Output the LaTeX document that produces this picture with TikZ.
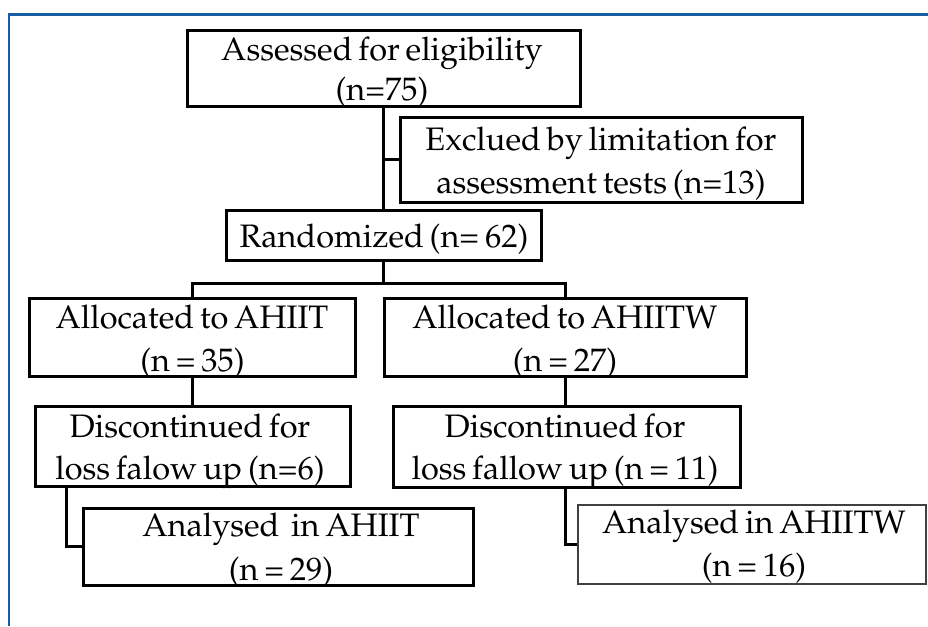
\documentclass[tikz,border=0pt]{standalone}
\usepackage[T1]{fontenc}
\usepackage{mathpazo}
\definecolor{frameblue}{RGB}{22,92,160}
\newcommand{\tightspaces}{\spaceskip 0.18em plus 0.05em\relax}
\begin{document}
\begin{tikzpicture}[x=1pt,y=-1pt,
  box/.style={draw=black,line width=3pt,inner sep=0pt,minimum width=#1},
  txt/.style={anchor=base,inner sep=0pt,font=\fontsize{32.5}{38}\selectfont,execute at begin node=\tightspaces},
  conn/.style={draw=black,line width=3pt}]
\useasboundingbox (0,0) rectangle (928,626);
\draw[frameblue,line width=2.5pt] (9,626) -- (9,14.5) -- (928,14.5);
% boxes
\node[box=393pt,minimum height=75pt] (b1) at (383.5,68.5) {};
\node[box=402pt,minimum height=85pt] (b2) at (601,159.5) {};
\node[box=315pt,minimum height=50pt] (b3) at (383.5,235) {};
\node[box=326pt,minimum height=78pt] (b4) at (192,337) {};
\node[box=362pt,minimum height=78pt] (b5) at (565,337) {};
\node[box=315pt,minimum height=80pt] (b6) at (192.5,446) {};
\node[box=347pt,minimum height=81pt] (b7) at (566.5,446.5) {};
\node[box=390pt,minimum height=77pt] (b8) at (278,546.5) {};
\node[box=348pt,minimum height=79pt,draw=black!75,line width=2pt] (b9) at (752,544.5) {};
% texts
\node[txt] (t1a) at (382,60) {Assessed for eligibility};
\node[txt] (t1b) at (382,100) {(n=75)};
\node[txt] (t2a) at (601,150) {Exclued by limitation for};
\node[txt] (t2b) at (601,193) {assessment tests (n=13)};
\node[txt] (t3a) at (384,247) {Randomized (n= 62)};
\node[txt] (t4a) at (192,328) {Allocated to AHIIT};
\node[txt] (t4b) at (192.5,371) {(n = 35)};
\node[txt] (t5a) at (565,328) {Allocated to AHIITW};
\node[txt] (t5b) at (565,371) {(n = 27)};
\node[txt] (t6a) at (190,437) {Discontinued for};
\node[txt] (t6b) at (190,479) {loss falow up (n=6)};
\node[txt] (t7a) at (565,437) {Discontinued for};
\node[txt] (t7b) at (565,479) {loss fallow up (n = 11)};
\node[txt] (t8a) at (281,536) {Analysed\ \ in AHIIT};
\node[txt] (t8b) at (281,580) {(n = 29)};
\node[txt] (t9a) at (754,533) {Analysed in AHIITW};
\node[txt] (t9b) at (754,576) {(n = 16)};
% connectors
\coordinate (split) at (383.5,283);
\coordinate (c6) at (66,0);
\draw[conn] (b1.south) -- (b3.north);
\draw[conn] (b1.south |- b2.west) -- (b2.west);
\draw[conn] (b3.south) -- (split);
\draw[conn] (b4.north) -- (b4.north |- split) -- (b5.north |- split) -- (b5.north);
\draw[conn] (b4.south) -- (b4.south |- b6.north);
\draw[conn] (b5.south) -- (b5.south |- b7.north);
\draw[conn] (b6.south -| c6) |- (b8.west);
\draw[conn] (b7.south -| b5.south) |- (b9.west);
\end{tikzpicture}
\end{document}
